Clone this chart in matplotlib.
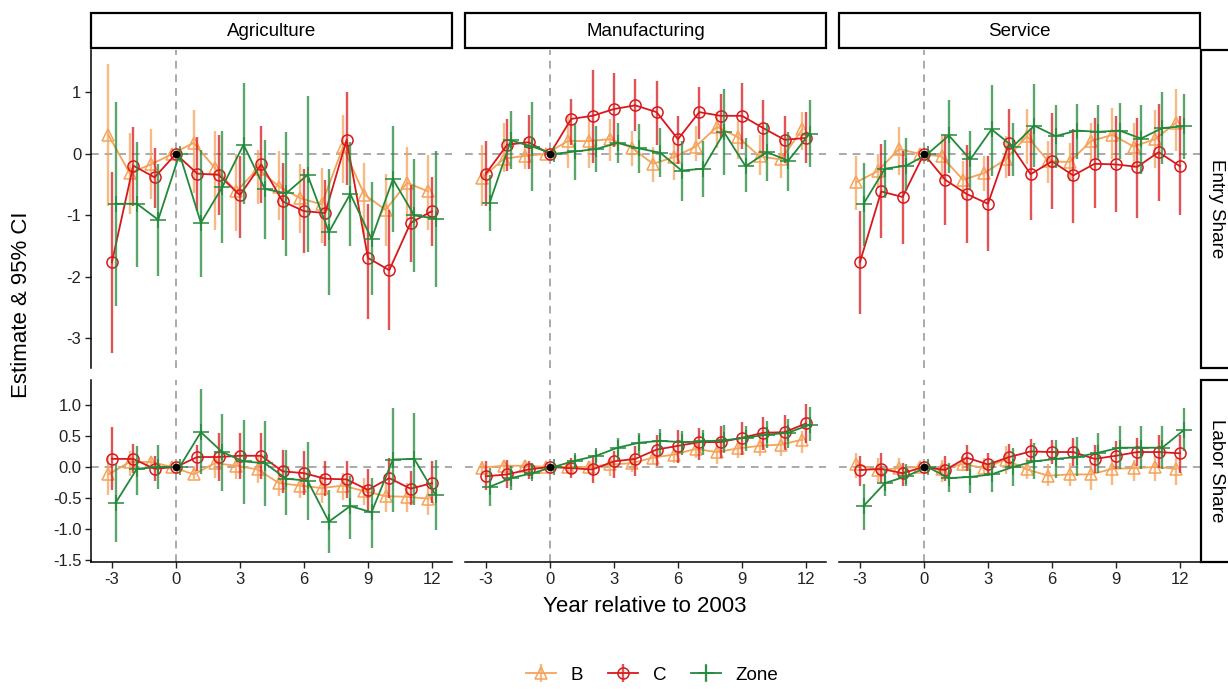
import matplotlib.pyplot as plt
from matplotlib.patches import Rectangle
import numpy as np

plt.rcParams['font.family'] = ['Liberation Sans', 'DejaVu Sans']
plt.rcParams['axes.unicode_minus'] = False

years = list(range(-3, 13))
sectors = ['Agriculture', 'Manufacturing', 'Service']
outcomes = ['Entry Share', 'Labor Share']
groups = ['B', 'C', 'Zone']

# ---- Entry Share ----
ag_entry_b_est = [0.31, -0.31, -0.17, 0, 0.18, -0.23, -0.61, -0.24, -0.53, -0.72, -0.82, 0.11, -0.66, -0.91, -0.47, -0.61]
ag_entry_b_lo = [-0.85, -0.97, -0.74, 0, -0.63, -1.23, -1.25, -0.82, -1.07, -1.28, -1.45, -0.47, -1.31, -1.50, -1.07, -1.23]
ag_entry_b_hi = [1.47, 0.34, 0.40, 0, 0.72, 0.38, 0.00, 0.07, 0.04, -0.17, -0.23, 0.64, -0.15, -0.32, 0.11, -0.01]
ag_entry_c_est = [-1.76, -0.19, -0.38, 0, -0.32, -0.34, -0.67, -0.17, -0.77, -0.93, -0.96, 0.23, -1.69, -1.89, -1.12, -0.93]
ag_entry_c_lo = [-3.24, -0.85, -0.88, 0, -0.93, -0.99, -1.37, -0.80, -1.40, -1.61, -1.50, -0.50, -2.68, -2.86, -1.75, -1.49]
ag_entry_c_hi = [-0.30, 0.44, 0.10, 0, 0.28, 0.31, -0.03, 0.46, -0.15, -0.24, -0.42, 1.00, -0.82, -0.91, -0.50, -0.37]
ag_entry_z_est = [-0.81, -0.81, -1.07, 0, -1.12, -0.54, 0.15, -0.57, -0.64, -0.34, -1.27, -0.65, -1.38, -0.41, -1.00, -1.05]
ag_entry_z_lo = [-2.47, -1.83, -1.98, 0, -2.00, -1.45, -0.82, -1.38, -1.66, -1.60, -2.30, -1.49, -2.30, -1.27, -1.92, -2.16]
ag_entry_z_hi = [0.84, 0.19, -0.17, 0, 0.07, 0.37, 1.15, 0.23, 0.36, 0.94, -0.25, 0.19, -0.46, 0.45, -0.08, 0.04]

mf_entry_b_est = [-0.39, -0.08, -0.03, 0, 0.21, 0.21, 0.24, 0.10, -0.16, -0.05, 0.12, 0.44, 0.27, -0.04, -0.09, 0.40]
mf_entry_b_lo = [-0.85, -0.30, -0.25, 0, -0.23, -0.23, -0.12, -0.20, -0.46, -0.42, -0.12, 0.10, -0.09, -0.34, -0.39, 0.07]
mf_entry_b_hi = [0.15, 0.50, 0.26, 0, 0.61, 0.59, 0.57, 0.37, 0.12, 0.18, 0.46, 0.69, 0.53, 0.31, 0.23, 0.69]
mf_entry_c_est = [-0.32, 0.15, 0.19, 0, 0.57, 0.62, 0.73, 0.79, 0.68, 0.24, 0.68, 0.62, 0.62, 0.42, 0.23, 0.26]
mf_entry_c_lo = [-0.84, -0.28, -0.25, 0, 0.15, -0.14, 0.12, 0.37, 0.15, -0.17, 0.24, 0.26, 0.08, -0.04, -0.15, -0.15]
mf_entry_c_hi = [0.21, 0.57, 0.63, 0, 0.89, 1.36, 1.31, 1.22, 1.19, 0.62, 1.09, 0.98, 1.15, 0.88, 0.61, 0.69]
mf_entry_z_est = [-0.80, 0.22, 0.12, 0, 0.04, 0.08, 0.18, 0.09, 0.02, -0.27, -0.24, 0.35, -0.20, 0.03, -0.11, 0.33]
mf_entry_z_lo = [-1.25, -0.25, -0.61, 0, -0.43, -0.29, -0.14, -0.31, -0.38, -0.77, -0.70, -0.34, -0.62, -0.44, -0.60, -0.22]
mf_entry_z_hi = [-0.34, 0.70, 0.84, 0, 0.50, 0.45, 0.50, 0.49, 0.42, 0.21, 0.21, 1.05, 0.26, 0.50, 0.35, 0.88]

sv_entry_b_est = [-0.46, -0.28, 0.08, 0, -0.04, -0.42, -0.31, -0.09, 0.29, -0.12, -0.13, 0.21, 0.31, 0.12, 0.24, 0.51]
sv_entry_b_lo = [-0.91, -0.55, -0.35, 0, -0.42, -0.74, -0.61, -0.39, -0.17, -0.47, -0.44, -0.12, -0.09, -0.23, -0.23, 0.04]
sv_entry_b_hi = [-0.04, 0.00, 0.44, 0, 0.29, -0.12, -0.04, 0.29, 0.73, 0.21, 0.18, 0.51, 0.75, 0.51, 0.72, 1.05]
sv_entry_c_est = [-1.76, -0.61, -0.70, 0, -0.42, -0.65, -0.81, 0.18, -0.33, -0.12, -0.35, -0.16, -0.17, -0.21, 0.03, -0.20]
sv_entry_c_lo = [-2.61, -1.37, -1.46, 0, -1.15, -1.45, -1.58, -0.36, -1.07, -0.89, -1.12, -0.88, -0.94, -1.04, -0.76, -1.00]
sv_entry_c_hi = [-0.92, 0.16, 0.04, 0, 0.30, 0.14, -0.04, 0.73, 0.42, 0.67, 0.40, 0.59, 0.61, 0.59, 0.82, 0.61]
sv_entry_z_est = [-0.81, -0.24, -0.19, 0, 0.30, -0.09, 0.40, 0.12, 0.46, 0.29, 0.38, 0.36, 0.38, 0.25, 0.42, 0.45]
sv_entry_z_lo = [-1.50, -0.72, -0.61, 0, -0.31, -0.57, -0.36, -0.36, -0.22, -0.23, -0.09, -0.09, -0.08, -0.33, -0.17, -0.09]
sv_entry_z_hi = [-0.14, 0.23, 0.26, 0, 0.88, 0.37, 1.12, 0.51, 1.14, 0.79, 0.82, 0.80, 0.83, 0.79, 1.01, 0.98]

# ---- Labor Share ----
ag_labor_b_est = [-0.12, 0.08, 0.08, 0, -0.12, 0.06, 0.02, -0.04, -0.26, -0.30, -0.34, -0.30, -0.39, -0.47, -0.48, -0.51]
ag_labor_b_lo = [-0.45, -0.15, -0.04, 0, -0.20, -0.18, -0.20, -0.26, -0.47, -0.50, -0.58, -0.53, -0.61, -0.72, -0.72, -0.77]
ag_labor_b_hi = [0.17, 0.25, 0.15, 0, 0.01, 0.25, 0.23, 0.20, -0.04, -0.07, -0.12, -0.10, -0.18, -0.26, -0.26, -0.31]
ag_labor_c_est = [0.13, 0.13, -0.03, 0, 0.16, 0.16, 0.18, 0.18, -0.07, -0.10, -0.19, -0.20, -0.37, -0.18, -0.35, -0.26]
ag_labor_c_lo = [-0.37, -0.10, -0.23, 0, -0.07, -0.23, -0.20, -0.20, -0.42, -0.45, -0.47, -0.50, -0.72, -0.50, -0.61, -0.58]
ag_labor_c_hi = [0.64, 0.37, 0.17, 0, 0.36, 0.55, 0.55, 0.55, 0.28, 0.25, 0.09, 0.09, -0.03, 0.15, -0.07, 0.09]
ag_labor_z_est = [-0.58, -0.03, 0.00, 0, 0.56, 0.24, 0.09, 0.06, -0.19, -0.22, -0.88, -0.63, -0.73, 0.12, 0.13, -0.45]
ag_labor_z_lo = [-1.20, -0.45, -0.35, 0, -0.12, -0.39, -0.59, -0.63, -0.78, -0.85, -1.39, -1.16, -1.30, -0.72, -0.61, -1.01]
ag_labor_z_hi = [0.04, 0.34, 0.36, 0, 1.26, 0.85, 0.76, 0.74, 0.28, 0.40, -0.37, -0.15, -0.17, 0.95, 0.87, 0.12]

mf_labor_b_est = [-0.01, 0.02, 0.02, 0, 0.00, 0.00, 0.04, 0.06, 0.15, 0.20, 0.29, 0.24, 0.30, 0.34, 0.36, 0.44]
mf_labor_b_lo = [-0.12, -0.07, -0.08, 0, -0.10, -0.10, -0.15, -0.08, 0.04, 0.06, 0.15, 0.04, 0.15, 0.18, 0.18, 0.23]
mf_labor_b_hi = [0.09, 0.12, 0.12, 0, 0.10, 0.10, 0.15, 0.18, 0.25, 0.33, 0.41, 0.39, 0.45, 0.50, 0.54, 0.58]
mf_labor_c_est = [-0.15, -0.12, -0.04, 0, -0.02, -0.04, 0.09, 0.13, 0.28, 0.34, 0.40, 0.40, 0.47, 0.55, 0.56, 0.70]
mf_labor_c_lo = [-0.37, -0.34, -0.20, 0, -0.18, -0.26, -0.18, -0.15, 0.01, 0.06, 0.12, 0.15, 0.20, 0.27, 0.27, 0.39]
mf_labor_c_hi = [0.09, 0.12, 0.09, 0, 0.15, 0.20, 0.25, 0.33, 0.52, 0.60, 0.63, 0.66, 0.72, 0.81, 0.84, 1.01]
mf_labor_z_est = [-0.32, -0.18, -0.10, 0, 0.10, 0.18, 0.31, 0.39, 0.42, 0.40, 0.41, 0.43, 0.47, 0.52, 0.55, 0.68]
mf_labor_z_lo = [-0.63, -0.37, -0.20, 0, -0.02, 0.06, 0.12, 0.20, 0.20, 0.20, 0.20, 0.23, 0.25, 0.31, 0.31, 0.41]
mf_labor_z_hi = [-0.02, 0.01, 0.06, 0, 0.20, 0.28, 0.47, 0.55, 0.61, 0.58, 0.60, 0.67, 0.66, 0.74, 0.77, 0.97]

sv_labor_b_est = [0.04, -0.05, -0.02, 0, -0.04, 0.05, -0.02, 0.12, -0.04, -0.14, -0.12, -0.12, -0.03, -0.02, 0.00, -0.03]
sv_labor_b_lo = [-0.18, -0.24, -0.18, 0, -0.24, -0.07, -0.15, -0.12, -0.20, -0.31, -0.31, -0.37, -0.29, -0.23, -0.23, -0.29]
sv_labor_b_hi = [0.22, 0.14, 0.14, 0, 0.11, 0.17, 0.15, 0.33, 0.14, 0.04, 0.06, 0.06, 0.12, 0.12, 0.17, 0.15]
sv_labor_c_est = [-0.05, -0.03, -0.10, 0, -0.05, 0.15, 0.04, 0.16, 0.25, 0.24, 0.24, 0.13, 0.18, 0.24, 0.24, 0.22]
sv_labor_c_lo = [-0.30, -0.26, -0.30, 0, -0.23, -0.07, -0.15, -0.04, 0.06, 0.04, 0.01, -0.10, -0.04, 0.01, -0.02, -0.10]
sv_labor_c_hi = [0.17, 0.22, 0.06, 0, 0.17, 0.36, 0.23, 0.37, 0.45, 0.44, 0.47, 0.36, 0.41, 0.47, 0.52, 0.52]
sv_labor_z_est = [-0.63, -0.26, -0.15, 0, -0.18, -0.16, -0.12, 0.00, 0.09, 0.13, 0.16, 0.23, 0.31, 0.31, 0.31, 0.59]
sv_labor_z_lo = [-1.01, -0.47, -0.31, 0, -0.40, -0.42, -0.40, -0.31, -0.20, -0.18, -0.15, -0.10, -0.04, -0.04, -0.04, 0.25]
sv_labor_z_hi = [-0.28, -0.04, 0.04, 0, 0.06, 0.06, 0.12, 0.31, 0.39, 0.44, 0.49, 0.55, 0.66, 0.66, 0.66, 0.95]

panels = {
    ('Entry Share', 'Agriculture'): [(ag_entry_b_est, ag_entry_b_lo, ag_entry_b_hi),
                                     (ag_entry_c_est, ag_entry_c_lo, ag_entry_c_hi),
                                     (ag_entry_z_est, ag_entry_z_lo, ag_entry_z_hi)],
    ('Entry Share', 'Manufacturing'): [(mf_entry_b_est, mf_entry_b_lo, mf_entry_b_hi),
                                       (mf_entry_c_est, mf_entry_c_lo, mf_entry_c_hi),
                                       (mf_entry_z_est, mf_entry_z_lo, mf_entry_z_hi)],
    ('Entry Share', 'Service'): [(sv_entry_b_est, sv_entry_b_lo, sv_entry_b_hi),
                                 (sv_entry_c_est, sv_entry_c_lo, sv_entry_c_hi),
                                 (sv_entry_z_est, sv_entry_z_lo, sv_entry_z_hi)],
    ('Labor Share', 'Agriculture'): [(ag_labor_b_est, ag_labor_b_lo, ag_labor_b_hi),
                                     (ag_labor_c_est, ag_labor_c_lo, ag_labor_c_hi),
                                     (ag_labor_z_est, ag_labor_z_lo, ag_labor_z_hi)],
    ('Labor Share', 'Manufacturing'): [(mf_labor_b_est, mf_labor_b_lo, mf_labor_b_hi),
                                       (mf_labor_c_est, mf_labor_c_lo, mf_labor_c_hi),
                                       (mf_labor_z_est, mf_labor_z_lo, mf_labor_z_hi)],
    ('Labor Share', 'Service'): [(sv_labor_b_est, sv_labor_b_lo, sv_labor_b_hi),
                                 (sv_labor_c_est, sv_labor_c_lo, sv_labor_c_hi),
                                 (sv_labor_z_est, sv_labor_z_lo, sv_labor_z_hi)],
}

colors = ['#F5A35A', '#D7191C', '#23893A']
markers = ['^', 'o', '+']
msizes = [9, 8, 11]
offsets = [-0.17, 0.0, 0.17]

W, H = 1228, 689
fig = plt.figure(figsize=(W / 100, H / 100), dpi=100)

col_left = [91, 465, 839]
col_w = 361
row_box = {'Entry Share': (50, 368), 'Labor Share': (380, 562)}
ylims = {'Entry Share': (-3.48, 1.69), 'Labor Share': (-1.53, 1.40)}
yticks = {'Entry Share': [1, 0, -1, -2, -3],
          'Labor Share': [1.0, 0.5, 0.0, -0.5, -1.0, -1.5]}
yfmt = {'Entry Share': '{:.0f}', 'Labor Share': '{:.1f}'}

x = np.array(years, dtype=float)
legend_handles = None

for r, outcome in enumerate(outcomes):
    top, bot = row_box[outcome]
    for c, sector in enumerate(sectors):
        ax = fig.add_axes([col_left[c] / W, 1 - bot / H, col_w / W, (bot - top) / H])
        ax.axhline(0, color='#AAAAAA', lw=1.4, ls=(0, (4, 3)), zorder=1)
        ax.axvline(0, color='#AAAAAA', lw=1.4, ls=(0, (4, 3)), zorder=1)
        handles = []
        for g, (est, lo, hi) in enumerate(panels[(outcome, sector)]):
            est = np.array(est); lo = np.array(lo); hi = np.array(hi)
            cont = ax.errorbar(x + offsets[g], est, yerr=[est - lo, hi - est],
                               color=colors[g], ecolor=colors[g], elinewidth=1.7,
                               capsize=0, lw=1.3, marker=markers[g], ms=msizes[g],
                               mfc='none', mec=colors[g], mew=1.1, zorder=3 + g)
            for bar in cont[2]:
                bar.set_alpha(0.75)
            handles.append(cont)
        if legend_handles is None:
            legend_handles = handles
        ax.plot([0], [0], 'o', color='black', ms=4.5, zorder=10)

        ax.set_xlim(-3.98, 12.94)
        ax.set_ylim(*ylims[outcome])
        for s in ['top', 'right']:
            ax.spines[s].set_visible(False)
        ax.spines['left'].set_visible(c == 0)
        ax.spines['bottom'].set_visible(r == 1)
        ax.spines['left'].set_linewidth(1.1)
        ax.spines['bottom'].set_linewidth(1.1)
        ax.tick_params(length=4, width=1.0, labelsize=12, colors='#222222', pad=3)
        if r == 1:
            ax.set_xticks([-3, 0, 3, 6, 9, 12])
        else:
            ax.set_xticks([])
        if c == 0:
            ax.set_yticks(yticks[outcome])
            ax.set_yticklabels([yfmt[outcome].format(v) for v in yticks[outcome]])
        else:
            ax.set_yticks([])

# facet strips
for c, sector in enumerate(sectors):
    fig.patches.append(Rectangle((col_left[c] / W, 1 - 48 / H), col_w / W, 35 / H,
                                 transform=fig.transFigure, fc='white', ec='black', lw=1.6))
    fig.text((col_left[c] + col_w / 2) / W, 1 - 31 / H, sector,
             ha='center', va='center', fontsize=13.5)
for outcome in outcomes:
    top, bot = row_box[outcome]
    fig.patches.append(Rectangle((1201 / W, 1 - bot / H), 40 / W, (bot - top) / H,
                                 transform=fig.transFigure, fc='white', ec='black', lw=1.6))
    fig.text(1217 / W, 1 - (top + bot) / 2 / H, outcome, rotation=-90,
             ha='center', va='center', fontsize=13.5)

fig.text(22 / W, 1 - 305 / H, 'Estimate & 95% CI', rotation=90,
         ha='center', va='center', fontsize=16)
fig.text(645 / W, 1 - 607 / H, 'Year relative to 2003',
         ha='center', va='center', fontsize=16)

fig.legend(legend_handles, groups, loc='center', bbox_to_anchor=(652 / W, 1 - 675 / H),
           ncol=3, frameon=False, fontsize=13.5, handlelength=1.6, columnspacing=1.3,
           handletextpad=0.8)

fig.savefig('out.png', dpi=100)
